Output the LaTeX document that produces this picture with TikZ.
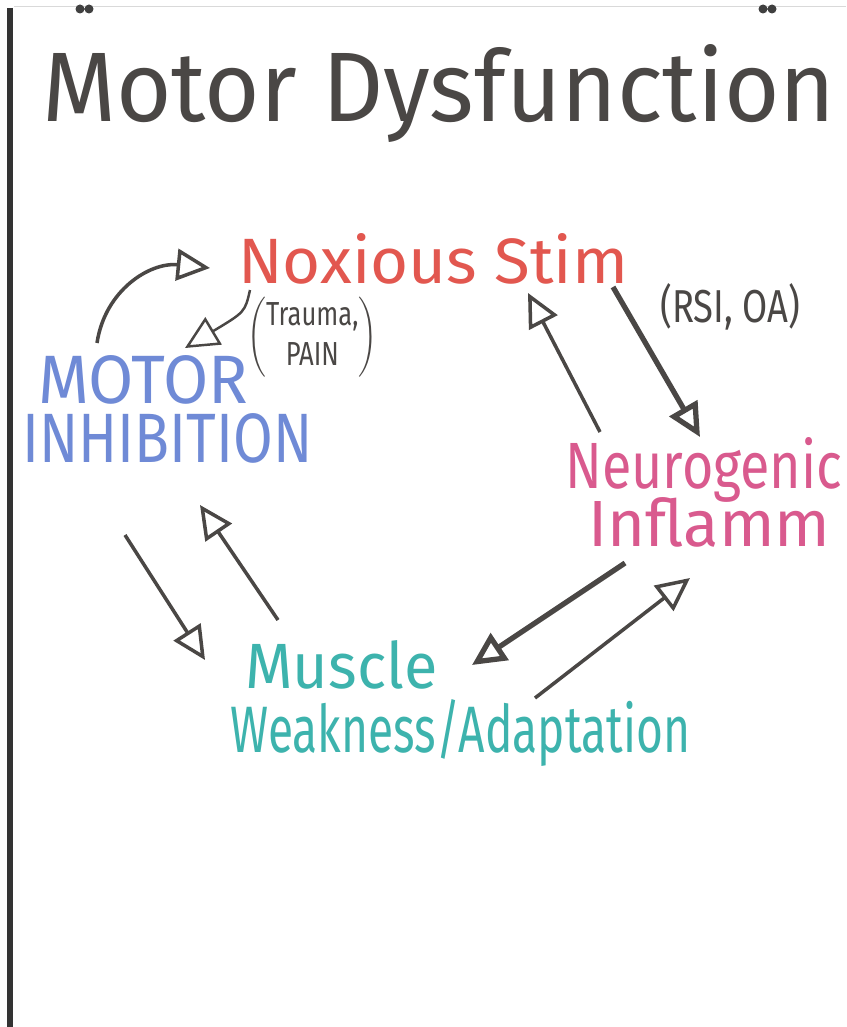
\documentclass[tikz,border=0pt]{standalone}
\usepackage{fontspec}
\setmainfont{Fira Sans}
\usetikzlibrary{arrows.meta}

\definecolor{ink}{HTML}{4A4745}
\definecolor{stimred}{HTML}{E2574F}
\definecolor{inhibblue}{HTML}{6F8AD6}
\definecolor{neuropink}{HTML}{D95A8E}
\definecolor{muscleteal}{HTML}{3DB3AD}

\newcommand{\fitbox}[3]{\resizebox{#1}{#2}{#3}}

\begin{document}
\begin{tikzpicture}[x=0.02cm, y=-0.02cm,
  word/.style={inner sep=0pt, anchor=base west},
  flow/.style={draw=ink, line width=2pt, -{Triangle[open,length=19pt,width=18pt]}},
  heavy/.style={flow, line width=3pt}]
\fill[white] (0,0) rectangle (846,1027);
\useasboundingbox (0,0) rectangle (846,1027);

% paper edge and rings
\draw[black!15] (14,6) -- (846,6);
\draw[black!80, line width=3pt] (10,8) -- (10,1027);
\fill[black!75] (80,9) circle[radius=0.09cm] (89,9) circle[radius=0.09cm];
\fill[black!75] (763,9) circle[radius=0.09cm] (772,9) circle[radius=0.09cm];

% texts
\node[word, text=ink] (title) at (42,122) {\fitbox{15.86cm}{1.54cm}{Motor Dysfunction}};
\node[word, text=stimred] (stim) at (238,283) {\fitbox{7.8cm}{1.0cm}{Noxious Stim}};
\node[inner sep=0pt, anchor=north west, text=ink] (trauma) at (247,297)
  {\resizebox*{2.6cm}{1.6cm}{$\left(\begin{tabular}{@{}c@{}}Trauma,\\PAIN\end{tabular}\right)$}};
\node[word, text=ink] (rsi) at (660,322) {\fitbox{2.8cm}{0.78cm}{(RSI, OA)}};
\node[word, text=inhibblue] (motor) at (38,403) {\fitbox{4.2cm}{0.96cm}{MOTOR}};
\node[word, text=inhibblue] (inhib) at (22,462) {\fitbox{5.8cm}{0.98cm}{INHIBITION}};
\node[word, text=neuropink] (neuro) at (565,488) {\fitbox{5.54cm}{1.02cm}{Neurogenic}};
\node[word, text=neuropink] (inflamm) at (588,546) {\fitbox{4.84cm}{0.98cm}{Inflamm}};
\node[word, text=muscleteal] (muscle) at (245,688) {\fitbox{3.84cm}{0.96cm}{Muscle}};
\node[word, text=muscleteal] (weak) at (230,752) {\fitbox{9.2cm}{1.06cm}{Weakness/Adaptation}};

% arrow ends
\coordinate (motor-out) at (97,343);
\coordinate (stim-in) at (210,268);
\coordinate (stim-out) at (250,290);
\coordinate (motor-in) at (185,348);
\coordinate (neuro-out) at (600,432);
\coordinate (stim-in2) at (528,293);
\coordinate (stim-out2) at (613,287);
\coordinate (neuro-in) at (700,437);
\coordinate (inhib-out) at (125,535);
\coordinate (muscle-in) at (205,660);
\coordinate (muscle-out) at (278,620);
\coordinate (inhib-in) at (200,505);
\coordinate (inflamm-out) at (625,563);
\coordinate (muscle-in2) at (472,665);
\coordinate (muscle-out2) at (535,698);
\coordinate (inflamm-in) at (690,578);

% arrows
\draw[flow] (motor-out) .. controls (105,290) and (150,262) .. (stim-in);
\draw[flow, line width=1.4pt] (stim-out) .. controls (245,312) .. (motor-in);
\draw[flow] (neuro-out) -- (stim-in2);
\draw[heavy] (stim-out2) -- (neuro-in);
\draw[flow] (inhib-out) -- (muscle-in);
\draw[flow] (muscle-out) -- (inhib-in);
\draw[heavy] (inflamm-out) -- (muscle-in2);
\draw[flow] (muscle-out2) -- (inflamm-in);
\end{tikzpicture}
\end{document}
